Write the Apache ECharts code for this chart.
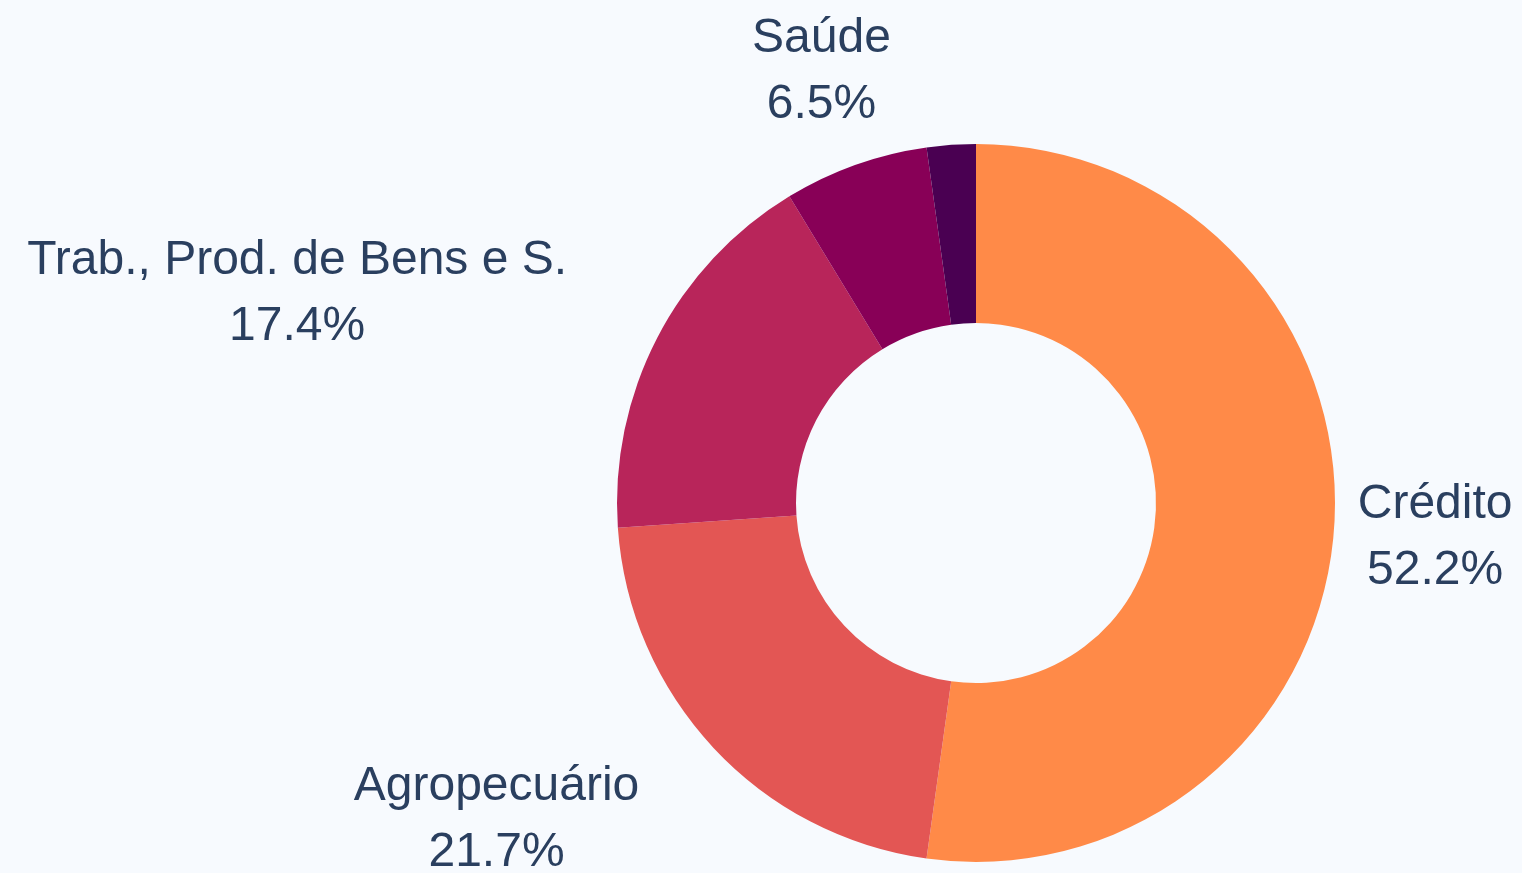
<!DOCTYPE html>
<html>
<head>
<meta charset="utf-8">
<title>Distribuição</title>
<script src="https://cdn.jsdelivr.net/npm/echarts@6/dist/echarts.min.js"></script>
<style>
  html, body { margin: 0; padding: 0; background: #f7fafe; }
  #chart { width: 1522px; height: 873px; }
</style>
</head>
<body>
<div id="chart"></div>
<script>
  // data (percent of total)
  const categories = ['Crédito', 'Agropecuário', 'Trab., Prod. de Bens e S.', 'Saúde', 'Outros']
  const values = [52.2, 21.7, 17.4, 6.5, 2.2]
  const colors = ['#ff8a48', '#e35654', '#b8255a', '#880057', '#4a0052']
  const showLabel = [true, true, true, true, false]

  // where each label box sits, relative to the slice's edge point
  const labelShift = [[101, 10], [-217, 72], [-360, -44], [-34, -93], [0, 0]]

  let chart = echarts.init(document.getElementById('chart'))
  chart.setOption({
    animation: false,
    backgroundColor: '#f7fafe',
    textStyle: { fontFamily: 'Liberation Sans' },
    series: [
      {
        type: 'pie',
        center: [976, 503],
        radius: [180, 359],
        startAngle: 90,
        clockwise: true,
        percentPrecision: 1,
        avoidLabelOverlap: true,
        emphasis: { disabled: true },
        label: {
          show: true,
          position: 'outside',
          formatter: '{b}\n{d}%',
          fontFamily: 'Liberation Sans',
          fontSize: 48,
          lineHeight: 66,
          color: '#2a3f5f',
          distanceToLabelLine: 0
        },
        labelLine: { show: false, length: 0, length2: 0 },
        labelLayout: function (p) {
          let s = labelShift[p.dataIndex]
          return { align: 'center', verticalAlign: 'middle', dx: s[0], dy: s[1] }
        },
        data: categories.map(function (name, i) {
          return {
            name: name,
            value: values[i],
            itemStyle: { color: colors[i] },
            label: { show: showLabel[i] }
          }
        })
      }
    ]
  })
  window.addEventListener('resize', function () { chart.resize() })
</script>
</body>
</html>
